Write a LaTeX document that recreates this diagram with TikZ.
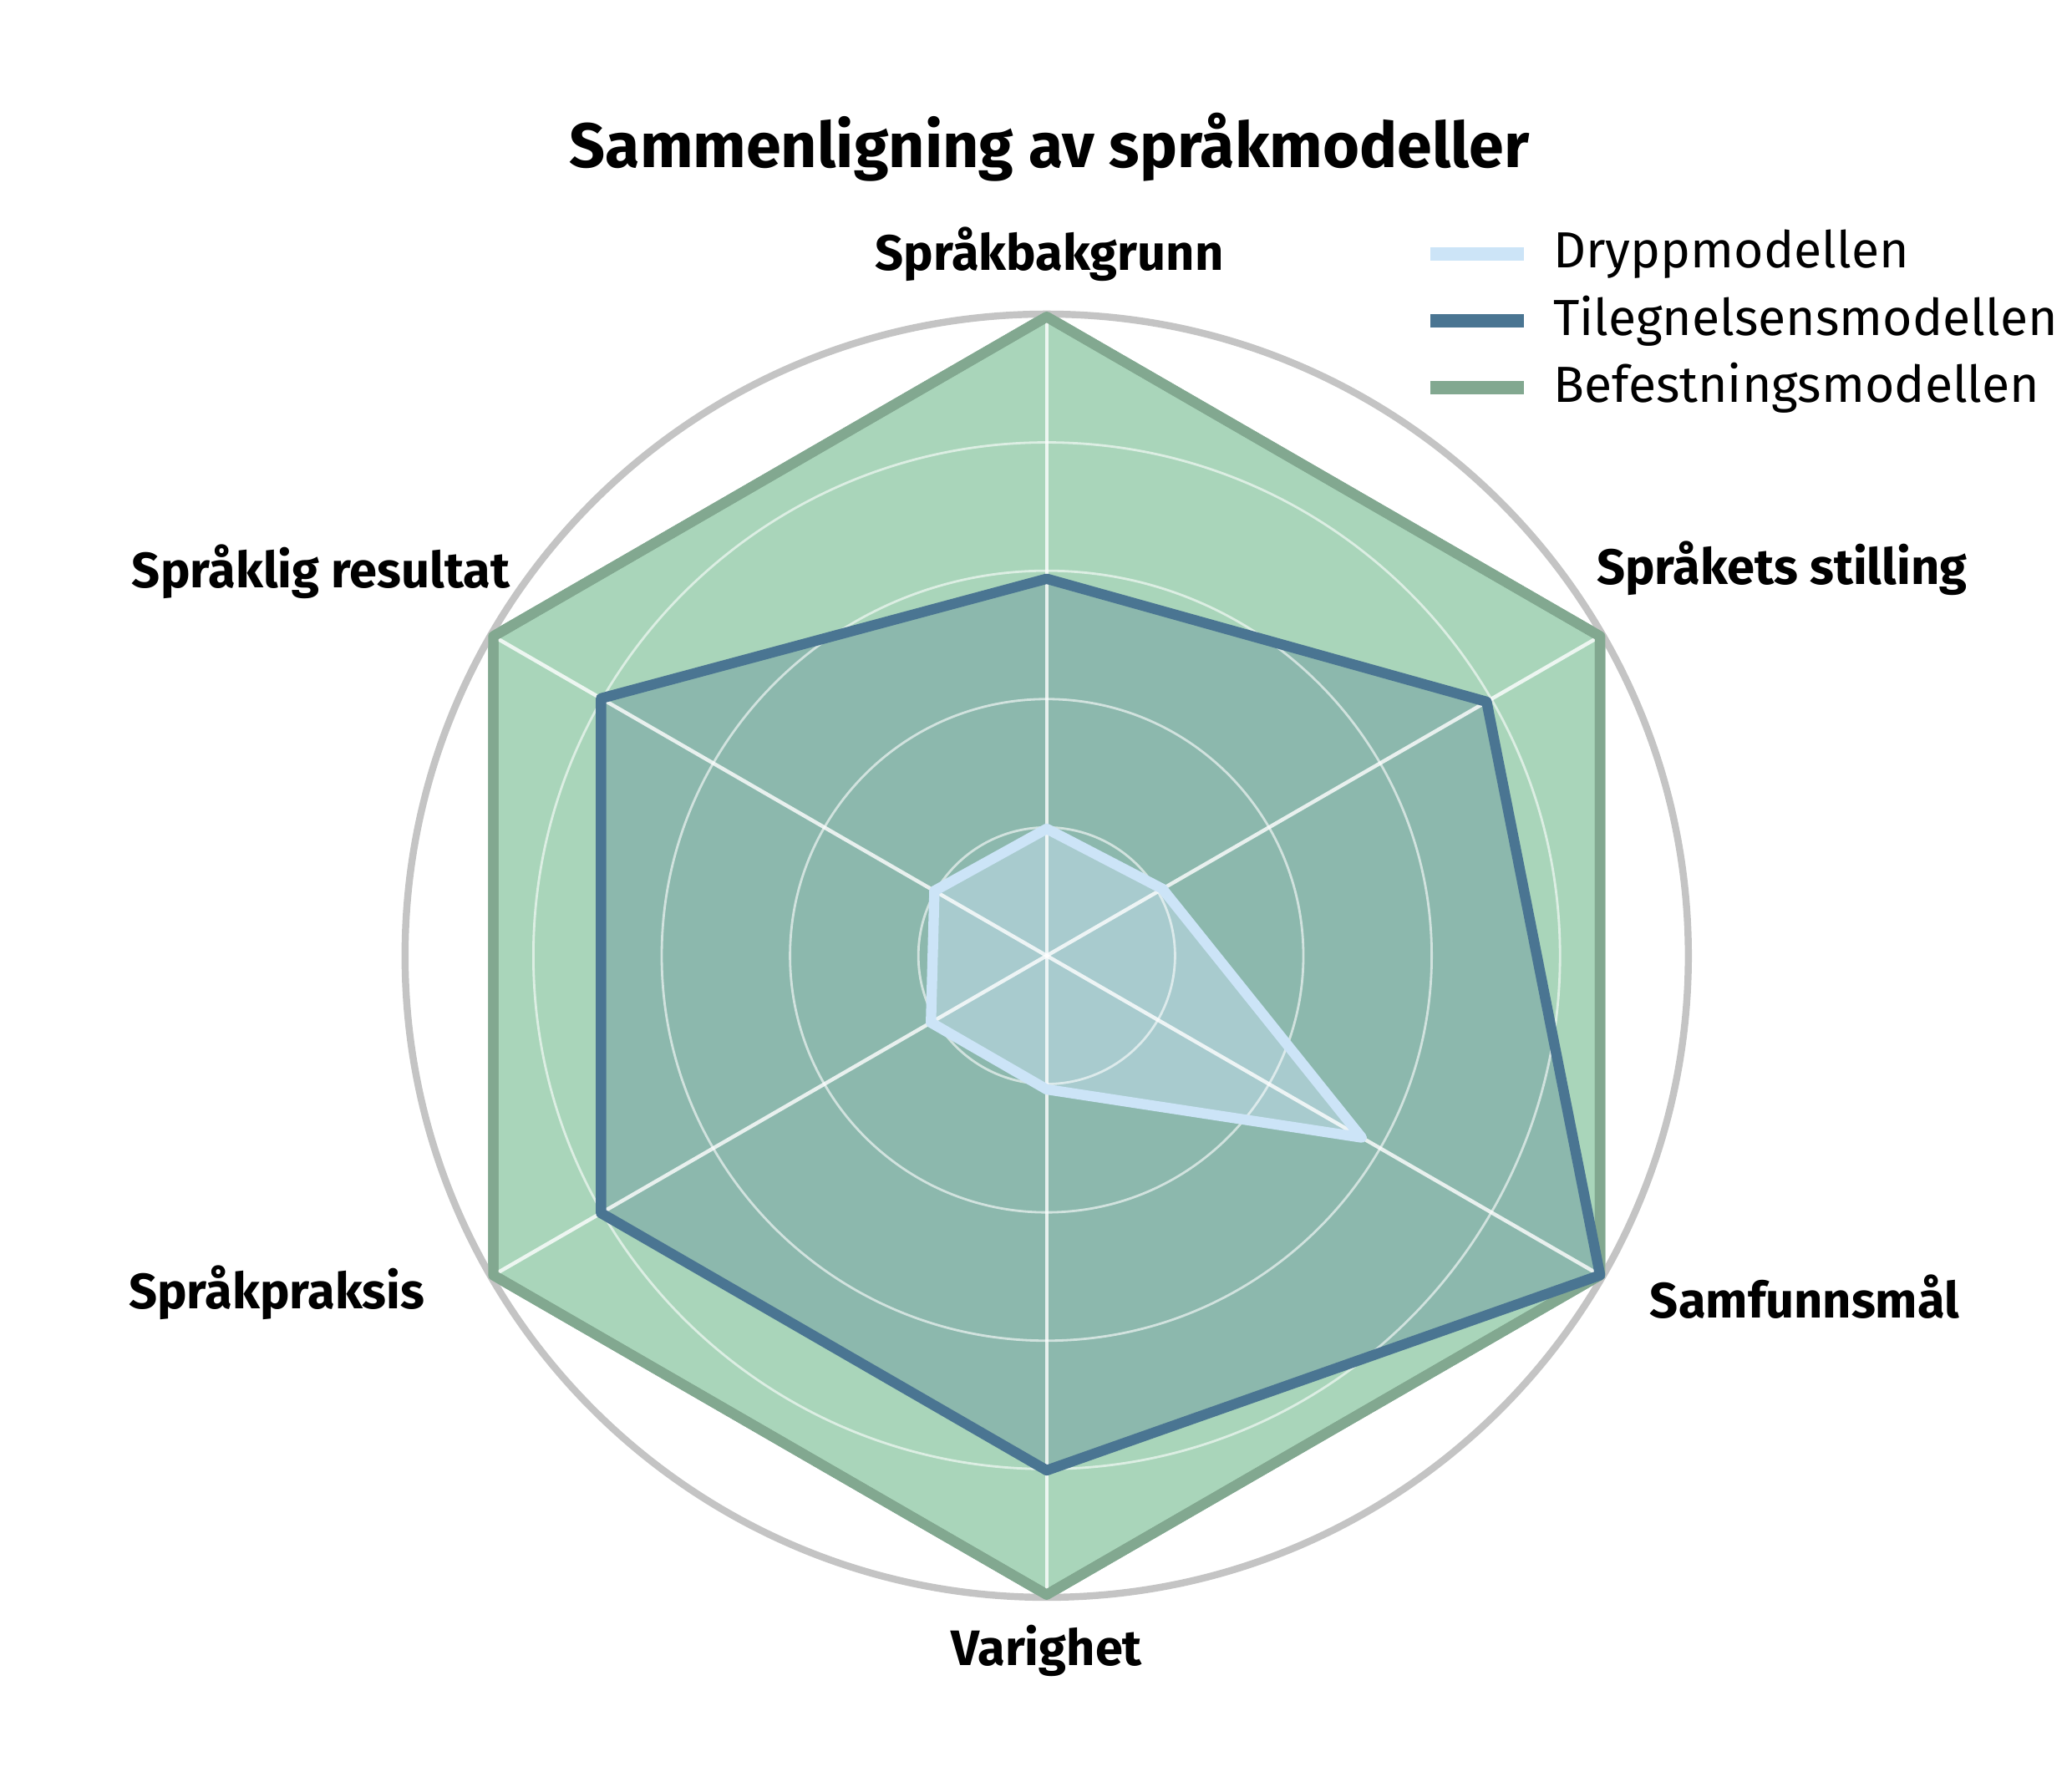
\documentclass[tikz,border=0pt]{standalone}
\usepackage{fontspec}
\setmainfont{Fira Sans}
\usetikzlibrary{positioning}
\definecolor{drypp}{HTML}{CCE4F7}
\definecolor{tileg}{HTML}{4A7592}
\definecolor{befest}{HTML}{82A890}
\definecolor{befestfill}{HTML}{A9D5BA}
\definecolor{gridgrey}{HTML}{C4C4C4}
\tikzset{
  axislabel/.style={font=\bfseries\fontsize{10.6}{12}\selectfont},
  legendtext/.style={font=\fontsize{10.8}{12}\selectfont, anchor=west},
}
\begin{document}
\begin{tikzpicture}[x=1cm,y=1cm]
    \useasboundingbox (0,0) rectangle (15.5,13.29);
    \coordinate (c) at (7.83,6.14);

    % befestning
    \draw[befest, line width=2.2pt, fill=befestfill, line join=round]
        ([shift={(90:4.78)}]c) -- ([shift={(30:4.78)}]c) -- ([shift={(-30:4.78)}]c)
        -- ([shift={(-90:4.78)}]c) -- ([shift={(210:4.78)}]c) -- ([shift={(150:4.78)}]c) -- cycle;

    % tilegnelse
    \fill[tileg, opacity=0.3]
        ([shift={(90:2.82)}]c) -- ([shift={(30:3.8)}]c) -- ([shift={(-30:4.78)}]c)
        -- ([shift={(-90:3.85)}]c) -- ([shift={(210:3.85)}]c) -- ([shift={(150:3.85)}]c) -- cycle;

    % dryp
    \fill[drypp, opacity=0.45]
        ([shift={(90:0.95)}]c) -- ([shift={(30:1.0)}]c) -- ([shift={(-30:2.72)}]c)
        -- ([shift={(-90:1.0)}]c) -- ([shift={(210:1.0)}]c) -- ([shift={(150:0.97)}]c) -- cycle;

    % grid
    \foreach \r in {0.96,1.92,2.88,3.84}
        \draw[white, opacity=0.6, line width=0.5pt] (c) circle (\r);
    \foreach \a in {90,30,-30,-90,210,150}
        \draw[white, opacity=0.8, line width=0.8pt] (c) -- ([shift={(\a:4.8)}]c);
    \draw[gridgrey, line width=1.5pt] (c) circle (4.8);

    % outlines
    \draw[befest, line width=2.2pt, line join=round]
        ([shift={(90:4.78)}]c) -- ([shift={(30:4.78)}]c) -- ([shift={(-30:4.78)}]c)
        -- ([shift={(-90:4.78)}]c) -- ([shift={(210:4.78)}]c) -- ([shift={(150:4.78)}]c) -- cycle;
    \draw[tileg, line width=2.2pt, line join=round]
        ([shift={(90:2.82)}]c) -- ([shift={(30:3.8)}]c) -- ([shift={(-30:4.78)}]c)
        -- ([shift={(-90:3.85)}]c) -- ([shift={(210:3.85)}]c) -- ([shift={(150:3.85)}]c) -- cycle;
    \draw[drypp, line width=2.2pt, line join=round]
        ([shift={(90:0.95)}]c) -- ([shift={(30:1.0)}]c) -- ([shift={(-30:2.72)}]c)
        -- ([shift={(-90:1.0)}]c) -- ([shift={(210:1.0)}]c) -- ([shift={(150:0.97)}]c) -- cycle;

    % labels
    \node[axislabel] (bakgrunn) at (7.85,11.39) {Språkbakgrunn};
    \node[axislabel] (stilling) at (13.33,9.04) {Språkets stilling};
    \node[axislabel] (samfunn) at (13.5,3.59) {Samfunnsmål};
    \node[axislabel] (varighet) at (7.83,0.94) {Varighet};
    \node[axislabel] (praksis) at (2.07,3.62) {Språkpraksis};
    \node[axislabel] (resultat) at (2.4,9.01) {Språklig resultat};

    \node[font=\bfseries\fontsize{13.4}{16}\selectfont] (title) at (7.85,12.19) {Sammenligning av språkmodeller};

    % legend
    \coordinate (l1) at (10.7,11.39);
    \coordinate (l2) at (10.7,10.89);
    \coordinate (l3) at (10.7,10.39);
    \draw[drypp, line width=3pt] (l1) -- ++(0.7,0) node[legendtext, black, xshift=0.05cm] (ldrypp) {Dryppmodellen};
    \draw[tileg, line width=3pt] (l2) -- ++(0.7,0) node[legendtext, black, xshift=0.05cm] (ltileg) {Tilegnelsensmodellen};
    \draw[befest, line width=3pt] (l3) -- ++(0.7,0) node[legendtext, black, xshift=0.05cm] (lbefest) {Befestningsmodellen};
\end{tikzpicture}
\end{document}
